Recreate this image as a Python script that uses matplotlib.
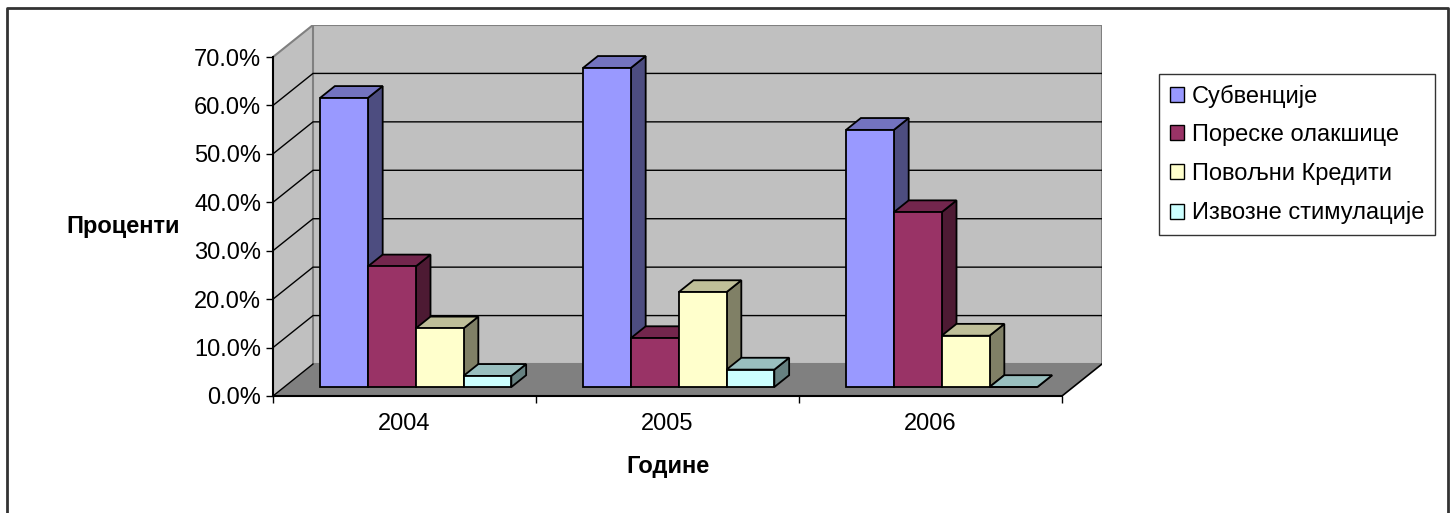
import matplotlib
matplotlib.use('Agg')
import matplotlib.pyplot as plt
from matplotlib.patches import Polygon, Rectangle
from matplotlib.lines import Line2D

plt.rcParams['font.family'] = ['Liberation Sans', 'DejaVu Sans']

# ---- data ----
categories = ['2004', '2005', '2006']
series_names = ['Субвенције', 'Пореске олакшице', 'Повољни Кредити', 'Извозне стимулације']
subvencije = [59.7, 65.9, 53.1]
poreske = [24.9, 10.1, 36.1]
povoljni = [12.1, 19.6, 10.6]
izvozne = [2.3, 3.6, 0.0]
yticks = [0, 10, 20, 30, 40, 50, 60, 70]
ytick_labels = ['%.1f%%' % v for v in yticks]

values = [subvencije, poreske, povoljni, izvozne]
front_colors = ['#9999FF', '#993366', '#FFFFCC', '#CCFFFF']
top_colors = ['#7373BF', '#73264D', '#BFBF99', '#99BFBF']
side_colors = ['#4D4D80', '#4D1A33', '#808066', '#668080']

FS = 17

W, H = 1456, 513
fig = plt.figure(figsize=(W / 100, H / 100), dpi=100)
fig.patch.set_facecolor('white')

# axes: front plane x 273..1062 (3 categories), back wall to 1102; y 0% at 396, 70% at 57
ax = fig.add_axes([273 / W, (H - 396) / H, (1102 - 273) / W, (396 - 25) / H])
px_per_cat = (1062 - 273) / 3.0
px_per_pct = (396 - 57) / 70.0
DX = 40 / px_per_cat
DY = 32 / px_per_pct
ax.set_xlim(0, 3 + DX)
ax.set_ylim(0, 70 + DY)
ax.set_facecolor('none')

# walls & floor
ax.add_patch(Polygon([(0, 0), (DX, DY), (DX, 70 + DY), (0, 70)], closed=True,
                     fc='#C0C0C0', ec='none', zorder=1))
ax.add_patch(Rectangle((DX, DY), 3, 70, fc='#C0C0C0', ec='#808080', lw=1.5, zorder=1))
ax.add_patch(Polygon([(0, 0), (3, 0), (3 + DX, DY), (DX, DY)], closed=True,
                     fc='#808080', ec='none', zorder=2))
for v in yticks[1:-1]:
    ax.plot([0, DX, 3 + DX], [v, v + DY, v + DY], color='black', lw=1.0, zorder=3)
ax.plot([0, DX], [70, 70 + DY], color='#808080', lw=1.5, zorder=3)
ax.plot([0, DX], [0, DY], color='black', lw=1.0, zorder=3)
ax.plot([3, 3 + DX], [0, DY], color='black', lw=1.2, zorder=3)

# bars
w = 1 / 5.5
d0, d1 = 0.28, 0.65
ddx, ddy = (d1 - d0) * DX, (d1 - d0) * DY
y0 = d0 * DY
for j, vals in enumerate(values):
    xs = [i + 0.5 - 2 * w + j * w + d0 * DX for i in range(len(categories))]
    bars = ax.bar(xs, vals, width=w, bottom=y0, align='edge', color=front_colors[j],
                  edgecolor='black', linewidth=1.3)
    for i, (b, v) in enumerate(zip(bars, vals)):
        k = i * 4 + j
        b.set_zorder(10 + 3 * k + 2)
        xl = xs[i]
        xr = xl + w
        ax.add_patch(Polygon([(xr, y0), (xr + ddx, y0 + ddy), (xr + ddx, y0 + ddy + v), (xr, y0 + v)],
                             closed=True, fc=side_colors[j], ec='black', lw=1.3, zorder=10 + 3 * k))
        ax.add_patch(Polygon([(xl, y0 + v), (xr, y0 + v), (xr + ddx, y0 + v + ddy), (xl + ddx, y0 + v + ddy)],
                             closed=True, fc=top_colors[j], ec='black', lw=1.3, zorder=10 + 3 * k + 1))

# spines & ticks
for s in ['top', 'right']:
    ax.spines[s].set_visible(False)
ax.spines['left'].set_bounds(0, 70)
ax.spines['bottom'].set_bounds(0, 3)
for s in ['left', 'bottom']:
    ax.spines[s].set_linewidth(1.5)
    ax.spines[s].set_color('black')
    ax.spines[s].set_zorder(5)

ax.set_yticks(yticks)
ax.set_yticklabels(ytick_labels)
ax.tick_params(axis='y', direction='out', length=5, width=1, labelsize=FS, pad=3.5)
ax.set_xticks([0, 1, 2, 3])
ax.set_xticklabels([])
ax.set_xticks([0.5, 1.5, 2.5], minor=True)
ax.set_xticklabels(categories, minor=True)
ax.tick_params(axis='x', which='major', direction='out', length=5, width=1)
ax.tick_params(axis='x', which='minor', length=0, labelsize=FS, pad=12)

fig.text(123 / W, 1 - 226 / H, 'Проценти', ha='center', va='center', fontsize=FS, fontweight='bold')
fig.text(668 / W, 1 - 467 / H, 'Године', ha='center', va='center', fontsize=FS, fontweight='bold')

handles = [Rectangle((0, 0), 1, 1, fc=c, ec='black', lw=1) for c in front_colors]
leg = fig.legend(handles, series_names, loc='upper left', bbox_to_anchor=(1159 / W, 1 - 74 / H),
                 frameon=True, fancybox=False, edgecolor='black', fontsize=FS,
                 handlelength=0.6, handleheight=0.6, handletextpad=0.34, labelspacing=0.7,
                 borderpad=0.45, borderaxespad=0)
leg.get_frame().set_linewidth(1.0)

# outer border
fig.add_artist(Line2D([7 / W, 7 / W, 1448 / W, 1448 / W], [-0.05, 1 - 8 / H, 1 - 8 / H, -0.05],
                      transform=fig.transFigure, color='#333333', lw=2))

fig.savefig('out.png', dpi=100)
